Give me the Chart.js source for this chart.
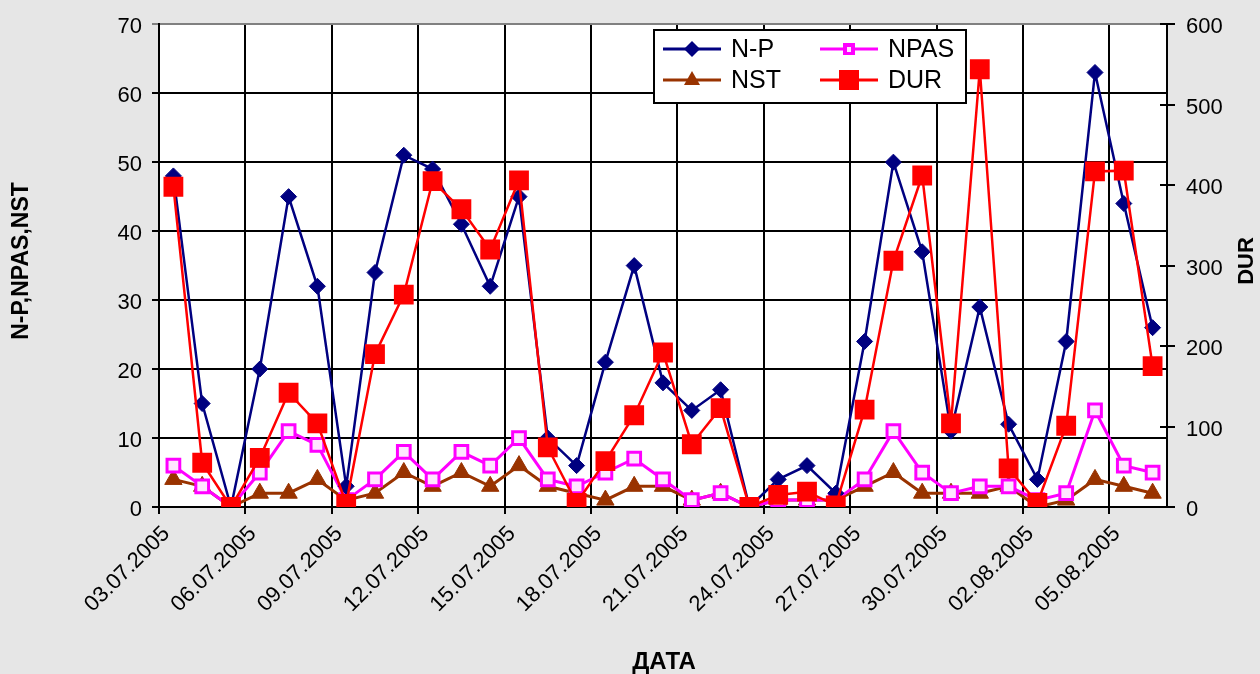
<!DOCTYPE html>
<html>
<head>
<meta charset="utf-8">
<script src="https://cdn.jsdelivr.net/npm/chart.js@4.4.0/dist/chart.umd.min.js"></script>
<style>
  body { margin: 0; background: #e6e6e6; }
  #wrap { width: 1260px; height: 674px; }
</style>
</head>
<body>
<div id="wrap"><canvas id="chart" width="1260" height="674"></canvas></div>
<script>
const FONT = "'Liberation Sans', Arial, sans-serif";

const dates = [
  '03.07.2005', '04.07.2005', '05.07.2005', '06.07.2005', '07.07.2005', '08.07.2005', '09.07.2005',
  '10.07.2005', '11.07.2005', '12.07.2005', '13.07.2005', '14.07.2005', '15.07.2005', '16.07.2005',
  '17.07.2005', '18.07.2005', '19.07.2005', '20.07.2005', '21.07.2005', '22.07.2005', '23.07.2005',
  '24.07.2005', '25.07.2005', '26.07.2005', '27.07.2005', '28.07.2005', '29.07.2005', '30.07.2005',
  '31.07.2005', '01.08.2005', '02.08.2005', '03.08.2005', '04.08.2005', '05.08.2005', '06.08.2005'
];

const np   = [48, 15, 0, 20, 45, 32, 3, 34, 51, 49, 41, 32, 45, 10, 6, 21, 35, 18, 14, 17, 0, 4, 6, 2, 24, 50, 37, 11, 29, 12, 4, 24, 63, 44, 26];
const npas = [6, 3, 0, 5, 11, 9, 1, 4, 8, 4, 8, 6, 10, 4, 3, 5, 7, 4, 1, 2, 0, 1, 1, 1, 4, 11, 5, 2, 3, 3, 1, 2, 14, 6, 5];
const nst  = [4, 3, 0, 2, 2, 4, 1, 2, 5, 3, 5, 3, 6, 3, 2, 1, 3, 3, 1, 2, 0, 1, 1, 1, 3, 5, 2, 2, 2, 3, 0, 1, 4, 3, 2];
const dur  = [398, 55, 0, 61, 142, 104, 4, 190, 264, 405, 370, 320, 406, 74, 5, 57, 114, 192, 78, 123, 0, 15, 19, 2, 121, 306, 412, 104, 544, 48, 5, 101, 417, 418, 175];

const leftTicks = [0, 10, 20, 30, 40, 50, 60, 70];
const rightTicks = [0, 100, 200, 300, 400, 500, 600];

// legend + axis titles drawn by hand (Excel-like 2x2 legend box)
const extras = {
  id: 'extras',
  beforeDraw(chart) {
    const { ctx, chartArea: a } = chart;
    ctx.save();
    ctx.fillStyle = '#fff';
    ctx.fillRect(a.left, a.top, a.right - a.left, a.bottom - a.top);
    ctx.restore();
  },
  afterDraw(chart) {
    const ctx = chart.ctx;
    const a = chart.chartArea;
    ctx.save();

    // right axis ticks cross the axis line
    ctx.strokeStyle = '#000';
    ctx.lineWidth = 2;
    rightTicks.forEach(v => {
      const py = Math.round(chart.scales.y1.getPixelForValue(v));
      ctx.beginPath();
      ctx.moveTo(a.right - 7, py);
      ctx.lineTo(a.right, py);
      ctx.stroke();
    });

    // legend box
    ctx.fillStyle = '#fff';
    ctx.fillRect(654, 30, 312, 73);
    ctx.strokeStyle = '#000';
    ctx.lineWidth = 2;
    ctx.strokeRect(654, 30, 312, 73);

    const items = [
      { label: 'N-P', color: '#000080', x: 663, y: 49, mark: 'diamond' },
      { label: 'NST', color: '#993300', x: 663, y: 80, mark: 'triangle' },
      { label: 'NPAS', color: '#ff00ff', x: 820, y: 49, mark: 'hollow' },
      { label: 'DUR', color: '#ff0000', x: 820, y: 80, mark: 'square' }
    ];
    items.forEach(it => {
      ctx.strokeStyle = it.color;
      ctx.lineWidth = 3;
      ctx.beginPath();
      ctx.moveTo(it.x, it.y);
      ctx.lineTo(it.x + 58, it.y);
      ctx.stroke();
      const cx = it.x + 29, cy = it.y;
      ctx.fillStyle = it.color;
      ctx.beginPath();
      if (it.mark === 'diamond') {
        ctx.moveTo(cx, cy - 8); ctx.lineTo(cx + 8, cy); ctx.lineTo(cx, cy + 8); ctx.lineTo(cx - 8, cy);
        ctx.closePath(); ctx.fill();
      } else if (it.mark === 'triangle') {
        ctx.moveTo(cx, cy - 9); ctx.lineTo(cx + 8, cy + 5); ctx.lineTo(cx - 8, cy + 5);
        ctx.closePath(); ctx.fill();
      } else if (it.mark === 'hollow') {
        ctx.fillRect(cx - 6, cy - 6, 12, 12);
        ctx.fillStyle = '#ffe6ff';
        ctx.fillRect(cx - 2, cy - 2, 4, 5);
      } else {
        ctx.fillRect(cx - 10, cy - 10, 20, 20);
      }
      ctx.fillStyle = '#000';
      ctx.font = '25px ' + FONT;
      ctx.textAlign = 'left';
      ctx.textBaseline = 'middle';
      ctx.fillText(it.label, it.x + 68, it.y + 1);
    });

    // axis titles
    ctx.fillStyle = '#000';
    ctx.textAlign = 'center';
    ctx.textBaseline = 'middle';
    ctx.font = 'bold 24px ' + FONT;
    ctx.fillText('ДАТА', 664, 662);

    ctx.font = 'bold 23px ' + FONT;
    ctx.save();
    ctx.translate(22, 261);
    ctx.rotate(-Math.PI / 2);
    ctx.fillText('N-P,NPAS,NST', 0, 0);
    ctx.restore();

    ctx.font = 'bold 22px ' + FONT;
    ctx.save();
    ctx.translate(1247, 261);
    ctx.rotate(-Math.PI / 2);
    ctx.fillText('DUR', 0, 0);
    ctx.restore();

    ctx.restore();
  }
};

const ctx = document.getElementById('chart').getContext('2d');
const chart = new Chart(ctx, {
  type: 'line',
  data: {
    labels: dates,
    datasets: [
      {
        label: 'DUR', data: dur, yAxisID: 'y1', order: 0,
        borderColor: '#ff0000', backgroundColor: '#ff0000', borderWidth: 2.5,
        pointStyle: 'rect', pointRadius: 14, pointBorderWidth: 0, pointBackgroundColor: '#ff0000'
      },
      {
        label: 'N-P', data: np, yAxisID: 'y', order: 1,
        borderColor: '#000080', backgroundColor: '#000080', borderWidth: 2.5,
        pointStyle: 'rectRot', pointRadius: 8, pointBorderWidth: 1
      },
      {
        label: 'NPAS', data: npas, yAxisID: 'y', order: 2,
        borderColor: '#ff00ff', backgroundColor: '#ffe6ff', borderWidth: 3,
        pointStyle: 'rect', pointRadius: 9, pointBorderWidth: 3
      },
      {
        label: 'NST', data: nst, yAxisID: 'y', order: 3,
        borderColor: '#993300', backgroundColor: '#993300', borderWidth: 3,
        pointStyle: 'triangle', pointRadius: 10, pointBorderWidth: 1
      }
    ]
  },
  options: {
    responsive: false,
    animation: false,
    layout: { padding: { top: 19 } },
    plugins: {
      legend: { display: false },
      tooltip: { enabled: false }
    },
    scales: {
      x: {
        type: 'category',
        offset: true,
        grid: {
          offset: true,
          color: c => (c.index % 3 === 0 ? '#000' : 'rgba(0,0,0,0)'),
          lineWidth: 2,
          tickLength: 7
        },
        border: { color: '#000', width: 2 },
        ticks: {
          autoSkip: false,
          maxRotation: 45,
          minRotation: 45,
          padding: 7,
          labelOffset: -7,
          color: '#000',
          font: { family: FONT, size: 22 },
          callback: (v, i) => (i % 3 === 0 ? dates[i] : '')
        },
        afterFit: s => { s.height = 167; }
      },
      y: {
        position: 'left',
        min: leftTicks[0],
        max: leftTicks[leftTicks.length - 1],
        afterBuildTicks: s => { s.ticks = leftTicks.map(v => ({ value: v })); },
        grid: {
          color: c => (c.tick && c.tick.value === 70 ? '#808080' : '#000'),
          lineWidth: 2,
          tickLength: 7
        },
        border: { color: '#000', width: 2 },
        ticks: { color: '#000', padding: 10, labelOffset: 3, font: { family: FONT, size: 22 } },
        afterFit: s => { s.width = 159; }
      },
      y1: {
        position: 'right',
        min: rightTicks[0],
        max: rightTicks[rightTicks.length - 1],
        afterBuildTicks: s => { s.ticks = rightTicks.map(v => ({ value: v })); },
        grid: { drawOnChartArea: false, color: '#000', lineWidth: 2, tickLength: 8 },
        border: { color: '#000', width: 2 },
        ticks: { color: '#000', padding: 11, labelOffset: 3, font: { family: FONT, size: 22 } },
        afterFit: s => { s.width = 93; }
      }
    }
  },
  plugins: [extras]
});
</script>
</body>
</html>
